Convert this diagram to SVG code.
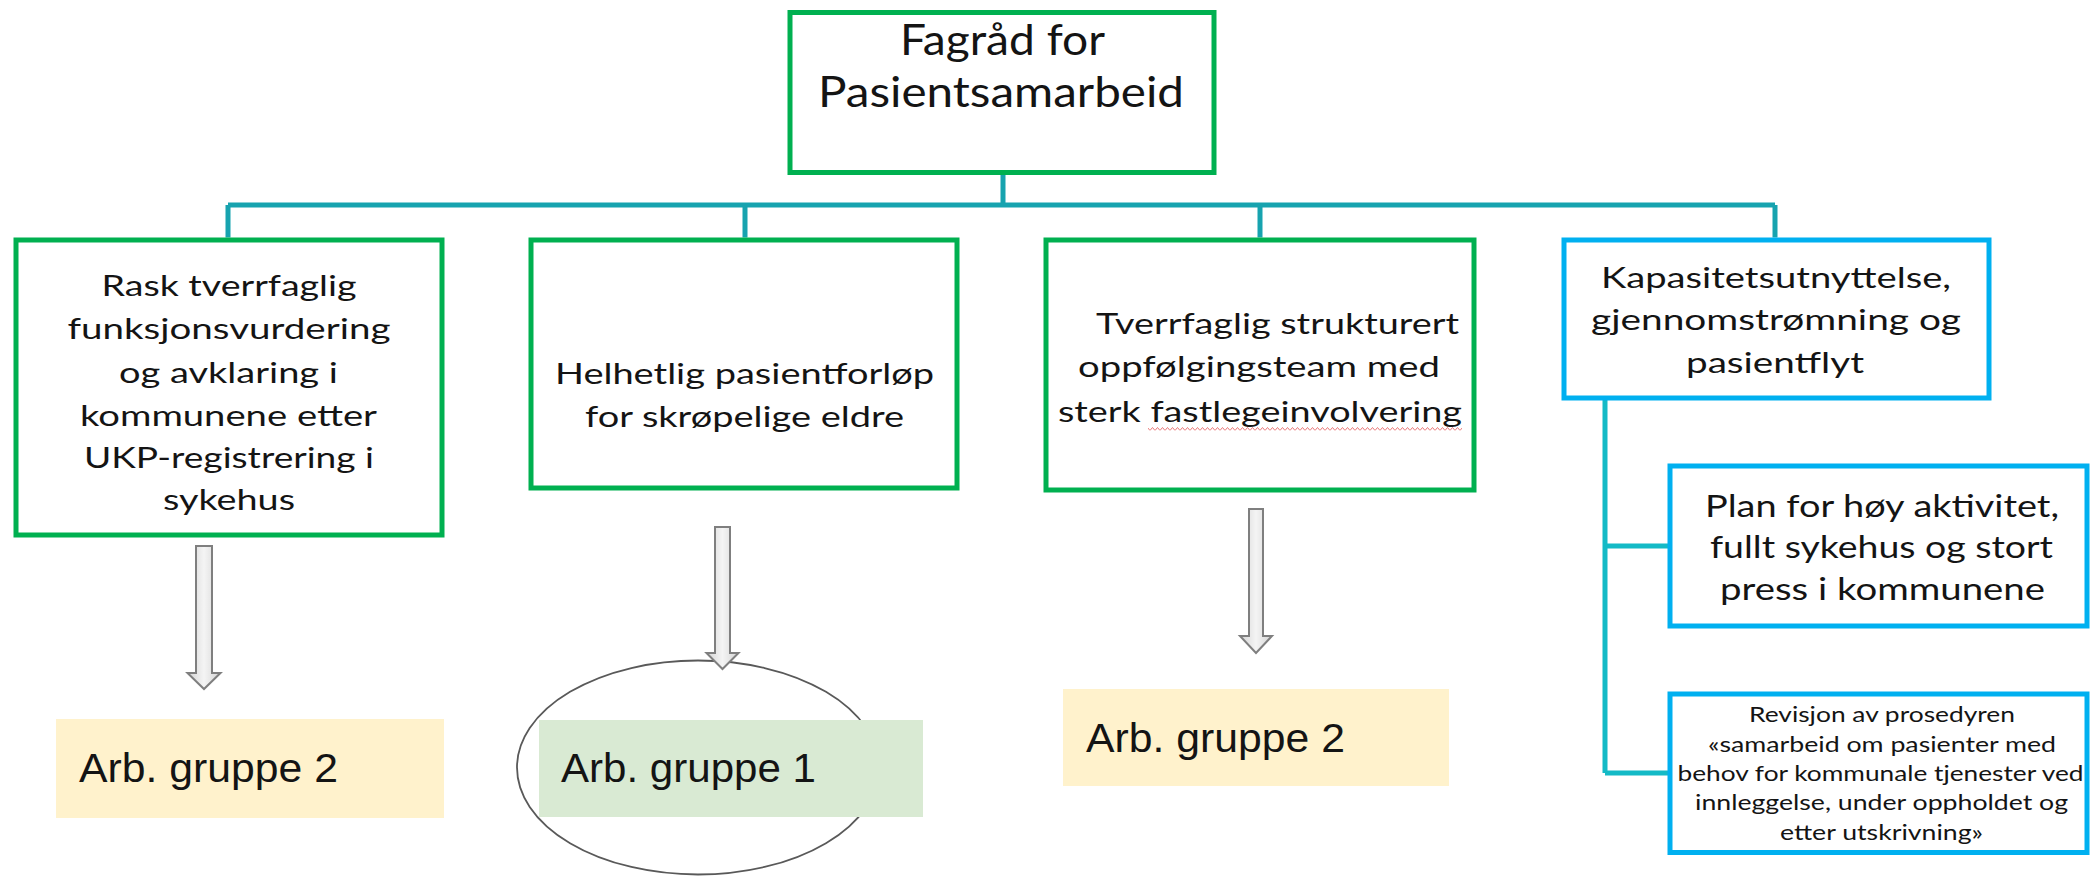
<svg xmlns="http://www.w3.org/2000/svg" width="2090" height="876" viewBox="0 0 2090 876">
<style>
.bg{fill:#ffffff}
.gbox{fill:#ffffff;stroke:#00B050;stroke-width:5}
.bbox{fill:#ffffff;stroke:#00B0F0;stroke-width:5}
.t{font-family:Lato,"Liberation Sans",sans-serif;fill:#141414;text-anchor:middle}
.t29{font-size:29px}
.t31{font-size:31px}
.t21{font-size:21px}
.t42{font-size:43px}
.arb{font-family:"Liberation Sans",Arial,sans-serif;font-size:41px;fill:#141414}
.conn{stroke:#17A3AF;stroke-width:5;fill:none}
.conn2{stroke:#14BAC6;stroke-width:5;fill:none}
.arrow{fill:url(#ag);stroke:#7F7F7F;stroke-width:2;stroke-linejoin:miter}
</style>
<defs>
<linearGradient id="ag" x1="0" y1="0" x2="1" y2="0">
<stop offset="0" stop-color="#D4D4D4"/>
<stop offset="0.5" stop-color="#F4F4F4"/>
<stop offset="1" stop-color="#D4D4D4"/>
</linearGradient>
<pattern id="squig" x="0" y="0" width="5" height="6" patternUnits="userSpaceOnUse">
<path d="M0 4.5 L2.5 1.5 L5 4.5" fill="none" stroke="#E87878" stroke-width="1"/>
</pattern>
</defs>
<rect class="bg" x="0" y="0" width="2090" height="876"/>

<g id="connectors">
<path class="conn" d="M1003 175 V205 M228 205 H1775 M228 205 V237.5 M745 205 V237.5 M1260 205 V237.5 M1775 205 V237.5"/>
<path class="conn2" d="M1605 400 V773 M1605 546 H1668 M1605 773 H1668"/>
</g>

<g id="top">
<rect class="gbox" x="790" y="12.5" width="424" height="160"/>
<text class="t t42" x="1002.5" y="55" textLength="205" lengthAdjust="spacingAndGlyphs">Fagråd for</text>
<text class="t t42" x="1001" y="107" textLength="366" lengthAdjust="spacingAndGlyphs">Pasientsamarbeid</text>
</g>

<g id="box1">
<rect class="gbox" x="16" y="240" width="426" height="295"/>
<text class="t t29" x="229" y="296" textLength="255" lengthAdjust="spacingAndGlyphs">Rask tverrfaglig</text>
<text class="t t29" x="229" y="339" textLength="323" lengthAdjust="spacingAndGlyphs">funksjonsvurdering</text>
<text class="t t29" x="228.5" y="383" textLength="219" lengthAdjust="spacingAndGlyphs">og avklaring i</text>
<text class="t t29" x="228.5" y="426" textLength="297" lengthAdjust="spacingAndGlyphs">kommunene etter</text>
<text class="t t29" x="229" y="468" textLength="290" lengthAdjust="spacingAndGlyphs">UKP-registrering i</text>
<text class="t t29" x="229" y="510" textLength="132" lengthAdjust="spacingAndGlyphs">sykehus</text>
</g>

<g id="box2">
<rect class="gbox" x="531" y="240" width="426" height="248"/>
<text class="t t29" x="744.5" y="384" textLength="379" lengthAdjust="spacingAndGlyphs">Helhetlig pasientforløp</text>
<text class="t t29" x="744.5" y="427" textLength="319" lengthAdjust="spacingAndGlyphs">for skrøpelige eldre</text>
</g>

<g id="box3">
<rect class="gbox" x="1046" y="240" width="428" height="250"/>
<text class="t t29" x="1277.5" y="334" textLength="363" lengthAdjust="spacingAndGlyphs">Tverrfaglig strukturert</text>
<text class="t t29" x="1259" y="377" textLength="362" lengthAdjust="spacingAndGlyphs">oppfølgingsteam med</text>
<text class="t t29" x="1260" y="421.5" textLength="404" lengthAdjust="spacingAndGlyphs">sterk fastlegeinvolvering</text>
<rect x="1148" y="427" width="314" height="6" fill="url(#squig)"/>
</g>

<g id="box4">
<rect class="bbox" x="1564" y="240" width="425" height="158"/>
<text class="t t29" x="1776" y="287.5" textLength="350" lengthAdjust="spacingAndGlyphs">Kapasitetsutnyttelse,</text>
<text class="t t29" x="1776" y="330" textLength="370" lengthAdjust="spacingAndGlyphs">gjennomstrømning og</text>
<text class="t t29" x="1775" y="373" textLength="178" lengthAdjust="spacingAndGlyphs">pasientflyt</text>
</g>

<g id="box5">
<rect class="bbox" x="1670" y="466" width="417" height="160"/>
<text class="t t31" x="1882" y="517" textLength="354" lengthAdjust="spacingAndGlyphs">Plan for høy aktivitet,</text>
<text class="t t31" x="1881.5" y="557.5" textLength="343" lengthAdjust="spacingAndGlyphs">fullt sykehus og stort</text>
<text class="t t31" x="1882.5" y="600" textLength="325" lengthAdjust="spacingAndGlyphs">press i kommunene</text>
</g>

<g id="box6">
<rect class="bbox" x="1670" y="694" width="417" height="158.5"/>
<text class="t t21" x="1882" y="722" textLength="266" lengthAdjust="spacingAndGlyphs">Revisjon av prosedyren</text>
<text class="t t21" x="1882" y="752" textLength="348" lengthAdjust="spacingAndGlyphs">«samarbeid om pasienter med</text>
<text class="t t21" x="1880.5" y="781" textLength="406" lengthAdjust="spacingAndGlyphs">behov for kommunale tjenester ved</text>
<text class="t t21" x="1881.5" y="810" textLength="373" lengthAdjust="spacingAndGlyphs">innleggelse, under oppholdet og</text>
<text class="t t21" x="1881.5" y="839.5" textLength="203" lengthAdjust="spacingAndGlyphs">etter utskrivning»</text>
</g>

<g id="arrow1">
<path class="arrow" d="M196 546 H212 V673 H220.5 L204 689 L187.5 673 H196 Z"/>
</g>
<g id="arb1">
<rect x="56" y="719" width="388" height="99" fill="#FFF2CC"/>
<text class="arb" x="79" y="782" textLength="259" lengthAdjust="spacingAndGlyphs">Arb. gruppe 2</text>
</g>

<g id="ellipse">
<ellipse cx="698" cy="767.5" rx="181" ry="107" fill="#ffffff" stroke="#595959" stroke-width="1.8"/>
</g>
<g id="arb2">
<rect x="539" y="720" width="384" height="97" fill="#D9EAD3"/>
<text class="arb" x="561" y="782" textLength="255" lengthAdjust="spacingAndGlyphs">Arb. gruppe 1</text>
</g>
<g id="arrow2">
<path class="arrow" d="M715 527 H730 V653 H738.5 L722.5 669 L706.5 653 H715 Z"/>
</g>

<g id="arrow3">
<path class="arrow" d="M1249 509 H1263 V636 H1272 L1256 653 L1240 636 H1249 Z"/>
</g>
<g id="arb3">
<rect x="1063" y="689" width="386" height="97" fill="#FFF2CC"/>
<text class="arb" x="1086" y="752" textLength="259" lengthAdjust="spacingAndGlyphs">Arb. gruppe 2</text>
</g>
</svg>
